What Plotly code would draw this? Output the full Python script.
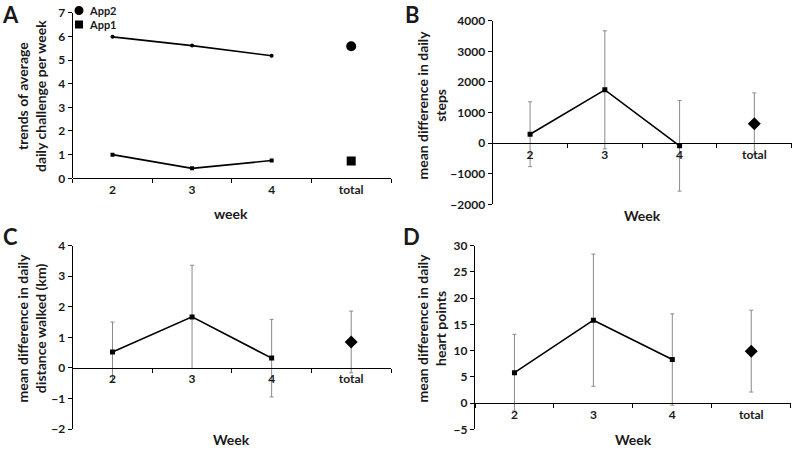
import plotly.graph_objects as go

# ---------------- data ----------------
weeks = ["2", "3", "4", "total"]
week_cats = ["2", "3", "4"]

# Panel A: trends of average daily challenge per week
app2_weekly = [5.98, 5.61, 5.18]
app2_total = [5.58]
app1_weekly = [1.0, 0.42, 0.75]
app1_total = [0.73]

# Panel B: mean difference in daily steps
steps_weekly = [290, 1740, -90]
steps_weekly_err = [1060, 1930, 1480]
steps_total = [630]
steps_total_err = [1010]

# Panel C: mean difference in daily distance walked (km)
dist_weekly = [0.52, 1.67, 0.32]
dist_weekly_err = [0.98, 1.69, 1.27]
dist_total = [0.85]
dist_total_err = [1.01]

# Panel D: mean difference in daily heart points
heart_weekly = [5.8, 15.8, 8.3]
heart_weekly_err = [7.3, 12.6, 8.7]
heart_total = [9.9]
heart_total_err = [7.8]

# ---------------- styling ----------------
FONT = "Lato"
TXT = "#1a1a1a"
ERRC = "#8a8a8a"
W, H = 800, 450

def px_x(p):
    return p / W

def px_y(p):
    return 1 - p / H

fig = go.Figure()

# ---- Panel A ----
fig.add_trace(go.Scatter(x=week_cats, y=app2_weekly, mode="lines+markers",
                         line=dict(color="black", width=1.6),
                         marker=dict(symbol="circle", size=4, color="black"),
                         xaxis="x", yaxis="y", showlegend=False))
fig.add_trace(go.Scatter(x=["total"], y=app2_total, mode="markers",
                         marker=dict(symbol="circle", size=10, color="black"),
                         xaxis="x", yaxis="y", showlegend=False))
fig.add_trace(go.Scatter(x=week_cats, y=app1_weekly, mode="lines+markers",
                         line=dict(color="black", width=1.6),
                         marker=dict(symbol="square", size=4, color="black"),
                         xaxis="x", yaxis="y", showlegend=False))
fig.add_trace(go.Scatter(x=["total"], y=app1_total, mode="markers",
                         marker=dict(symbol="square", size=9, color="black"),
                         xaxis="x", yaxis="y", showlegend=False))

def add_panel(xa, ya, weekly, weekly_err, total, total_err):
    fig.add_trace(go.Scatter(x=week_cats, y=weekly, mode="lines+markers",
                             line=dict(color="black", width=1.6),
                             marker=dict(symbol="square", size=5, color="black"),
                             error_y=dict(type="data", array=weekly_err, visible=True,
                                          color=ERRC, thickness=1, width=2),
                             xaxis=xa, yaxis=ya, showlegend=False))
    fig.add_trace(go.Scatter(x=["total"], y=total, mode="markers",
                             marker=dict(symbol="diamond", size=10, color="black"),
                             error_y=dict(type="data", array=total_err, visible=True,
                                          color=ERRC, thickness=1, width=2),
                             xaxis=xa, yaxis=ya, showlegend=False))

add_panel("x2", "y2", steps_weekly, steps_weekly_err, steps_total, steps_total_err)
add_panel("x3", "y3", dist_weekly, dist_weekly_err, dist_total, dist_total_err)
add_panel("x4", "y4", heart_weekly, heart_weekly_err, heart_total, heart_total_err)

# ---------------- axes ----------------
tickfont = dict(family=FONT, size=12, color=TXT, weight="bold")

panels = {
    # name: (x domain px, y domain px (top, bottom), y range, dtick)
    1: ((72.7, 391.0), (12.7, 178.3), (0, 7), 1),
    2: ((492.7, 791.7), (20.7, 204.3), (-2000, 4000), 1000),
    3: ((72.7, 391.0), (245.7, 429.0), (-2, 4), 1),
    4: ((475.0, 790.7), (245.7, 429.3), (-5, 30), 5),
}

layout_axes = {}
for i, ((xl, xr), (yt, yb), (ymin, ymax), dt) in panels.items():
    xs = "" if i == 1 else str(i)
    xdom = [px_x(xl), px_x(xr)]
    ydom = [px_y(yb), px_y(yt)]
    # position of the x axis: at y = 0 within the y scale
    pos0 = ydom[0] + (0 - ymin) / (ymax - ymin) * (ydom[1] - ydom[0])
    layout_axes["xaxis" + xs] = dict(
        domain=xdom, type="category", categoryorder="array", categoryarray=weeks,
        range=[-0.5, 3.5], anchor="free", position=pos0, automargin=False,
        showline=True, linecolor="black", linewidth=1.3,
        ticks="outside", tickson="boundaries", ticklen=4, tickcolor="black",
        tickwidth=1.2, tickfont=tickfont, showgrid=False, zeroline=False,
        fixedrange=True,
    )
    layout_axes["yaxis" + xs] = dict(
        domain=ydom, range=[ymin, ymax], dtick=dt, anchor="x" + xs, automargin=False,
        showline=True, linecolor="black", linewidth=1.3,
        ticks="outside", ticklen=4, tickcolor="black", tickwidth=1.2,
        tickfont=tickfont, showgrid=False, zeroline=False, fixedrange=True,
    )

fig.update_layout(**layout_axes)

# ---------------- annotations ----------------
ann = []
title_font = dict(family=FONT, size=14, color=TXT, weight="bold")

# panel letters
for letter, (cx, cy) in {"A": (10, 14.5), "B": (412, 14.5), "C": (10, 236), "D": (411, 236)}.items():
    ann.append(dict(text=letter, x=px_x(cx), y=px_y(cy), xref="paper", yref="paper",
                    showarrow=False, xanchor="center", yanchor="middle",
                    font=dict(family=FONT, size=22, color=TXT, weight="bold")))

# y-axis titles
ytitles = [
    ("trends of average<br>daily challenge per week", 31, 96),
    ("mean difference in daily<br>steps", 430.5, 105),
    ("mean difference in daily<br>distance walked (km)", 30.5, 328),
    ("mean difference in daily<br>heart points", 430.5, 328),
]
for t, cx, cy in ytitles:
    ann.append(dict(text=t, x=px_x(cx), y=px_y(cy), xref="paper", yref="paper",
                    showarrow=False, textangle=-90, xanchor="center", yanchor="middle",
                    font=title_font))

# x-axis titles
xtitles = [("week", 231, 213), ("Week", 642, 215), ("Week", 232, 439), ("Week", 633, 439)]
for t, cx, cy in xtitles:
    ann.append(dict(text=t, x=px_x(cx), y=px_y(cy), xref="paper", yref="paper",
                    showarrow=False, xanchor="center", yanchor="middle",
                    font=title_font))

# legend (panel A)
legend_font = dict(family=FONT, size=11, color=TXT, weight="bold")
ann.append(dict(text="App2", x=px_x(87), y=px_y(10.5), xref="paper", yref="paper",
                showarrow=False, xanchor="left", yanchor="middle", font=legend_font))
ann.append(dict(text="App1", x=px_x(87), y=px_y(24.5), xref="paper", yref="paper",
                showarrow=False, xanchor="left", yanchor="middle", font=legend_font))

shapes = [
    dict(type="circle", xref="paper", yref="paper",
         x0=px_x(74.5), x1=px_x(83.5), y0=px_y(15), y1=px_y(6),
         fillcolor="black", line=dict(width=0)),
    dict(type="rect", xref="paper", yref="paper",
         x0=px_x(75), x1=px_x(83), y0=px_y(28.5), y1=px_y(20.5),
         fillcolor="black", line=dict(width=0)),
]

fig.update_layout(
    template="none",
    width=W, height=H, margin=dict(l=0, r=0, t=0, b=0, autoexpand=False),
    paper_bgcolor="white", plot_bgcolor="white",
    annotations=ann, shapes=shapes, showlegend=False,
    font=dict(family=FONT, color=TXT),
)

fig.write_html("out.html", config={"displayModeBar": False},
               post_script="document.body.style.margin='0';document.body.style.overflow='hidden';")
